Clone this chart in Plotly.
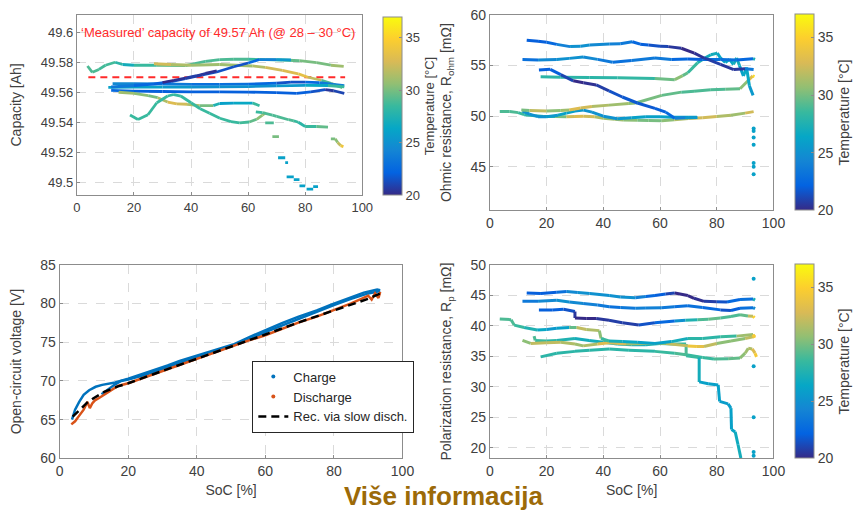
import plotly.graph_objects as go
from plotly.colors import sample_colorscale

# ---------------- DATA ----------------
SOC_TICKS = [0, 20, 40, 60, 80, 100]
TEMP_TICKS = [20, 25, 30, 35]
TEMP_MIN, TEMP_MAX = 20, 37
CAP_TICKS = [49.5, 49.52, 49.54, 49.56, 49.58, 49.6]
CAP_TICK_TEXT = ["49.5", "49.52", "49.54", "49.56", "49.58", "49.6"]
MEASURED_CAP = 49.57
MEASURED_SOC = [4, 94]

# Capacity panel curves: SoC [%], capacity [Ah], temperature [°C]
CAP_A_SOC = [3.7, 5.4, 7.7, 10, 13.4, 16, 20, 28, 38, 45, 50, 55, 60, 66, 72, 78, 84, 89, 93.5]
CAP_A_AH = [49.5775, 49.5733, 49.5752, 49.578, 49.580, 49.5785, 49.578, 49.578, 49.5778, 49.5805, 49.5818, 49.582, 49.582, 49.5818, 49.5815, 49.581, 49.5798, 49.578, 49.5772]
CAP_A_T = [29, 29, 29, 28.5, 29, 27, 27, 30, 29, 29, 29, 29, 29, 28, 29, 30, 30, 30, 32]

CAP_B_SOC = [27, 33, 40, 50, 61.6, 66, 72, 77.6, 81, 85.7, 89, 93]
CAP_B_AH = [49.579, 49.5785, 49.578, 49.5785, 49.5775, 49.5765, 49.5745, 49.5722, 49.570, 49.568, 49.5659, 49.5631]
CAP_B_T = [33, 32, 31, 31, 31, 32, 33, 33, 34, 30, 28, 32]

CAP_C_SOC = [30, 34, 38, 42, 45, 49]
CAP_C_AH = [49.5665, 49.568, 49.5695, 49.571, 49.5725, 49.5742]
CAP_C_T = [20, 20, 20.5, 21, 20, 20.5]

CAP_D_SOC = [12, 20, 27, 33, 38, 44, 49, 55, 60, 64, 70, 75]
CAP_D_AH = [49.5635, 49.5645, 49.5655, 49.567, 49.569, 49.5715, 49.5735, 49.577, 49.5795, 49.5818, 49.5818, 49.5815]
CAP_D_T = [24, 23, 22, 22, 21, 21, 22, 21, 22, 23, 25, 26]

CAP_E_SOC = [12.5, 20, 30, 40, 50, 60, 70, 75, 80, 85, 90, 93.7]
CAP_E_AH = [49.5658, 49.5658, 49.5655, 49.5652, 49.5652, 49.5654, 49.566, 49.5667, 49.5667, 49.5664, 49.5652, 49.5644]
CAP_E_T = [25, 24, 24, 23, 23, 23, 22, 21, 22, 23, 24, 24]

CAP_F_SOC = [11, 20, 30, 40, 50, 60, 70, 80, 88, 93.7]
CAP_F_AH = [49.5632, 49.5634, 49.5634, 49.5634, 49.5636, 49.5638, 49.5642, 49.5646, 49.5645, 49.5636]
CAP_F_T = [26, 26, 26, 25, 25, 25, 25, 26, 27, 30]

CAP_G_SOC = [12, 20, 30, 40, 50, 60, 70, 77, 82, 87, 90, 93.7]
CAP_G_AH = [49.5612, 49.5608, 49.5605, 49.5603, 49.5603, 49.5601, 49.5598, 49.5593, 49.5603, 49.5618, 49.561, 49.5593]
CAP_G_T = [23, 22, 22, 22, 22, 22, 22, 22, 22, 21, 20, 22]

CAP_H_SOC = [14.6, 20, 25, 28.3, 31.8, 35, 38.6, 43, 47.8, 50, 55, 61.6, 64]
CAP_H_AH = [49.560, 49.5592, 49.5578, 49.5564, 49.5535, 49.5522, 49.552, 49.5511, 49.5511, 49.5525, 49.5528, 49.5528, 49.551]
CAP_H_T = [31, 31, 30, 30, 33, 33, 32, 31, 29, 26, 26, 27, 30]

CAP_I_SOC = [18.6, 21.4, 24.9, 28, 31.8, 34, 36.4, 40, 43.2, 46.5, 50.1, 54, 57, 60.4, 63, 65, 66.2]
CAP_I_AH = [49.5448, 49.5418, 49.545, 49.553, 49.5575, 49.5585, 49.5575, 49.553, 49.549, 49.546, 49.5427, 49.5405, 49.5396, 49.5402, 49.542, 49.5448, 49.5465]
CAP_I_T = [28.5, 28.5, 28.5, 28.5, 28.5, 28.5, 28.5, 28.5, 28.5, 28.5, 28.5, 28.5, 28.5, 29, 30, 31, 31]

CAP_J_SOC = [62.7, 65, 68.5, 70, 74.2, 76, 77.6, 80, 84, 88]
CAP_J_AH = [49.547, 49.5465, 49.5448, 49.544, 49.5417, 49.541, 49.540, 49.5372, 49.5372, 49.5368]
CAP_J_T = [28, 29, 29, 29, 29, 29, 28, 28, 29, 30]

CAP_K_SOC = [66, 69, None, 68.5, 70.8, None, 89, 90.5, 91.4, 92.4, 93.4]
CAP_K_AH = [49.5396, 49.5396, None, 49.5305, 49.5305, None, 49.529, 49.529, 49.5265, 49.5245, 49.5238]
CAP_K_T = [29, 29, None, 30, 30, None, 30, 30, 31, 33, 35]

CAP_L_SOC = [70.5, 73, None, 73, 74, None, 73.5, 76, None, 76, 78, None, 78, 80, None, 80.5, 82.8, None, 82.8, 84.5]
CAP_L_AH = [49.5164, 49.5164, None, 49.5132, 49.5132, None, 49.5037, 49.5037, None, 49.5018, 49.5018, None, 49.4976, 49.4976, None, 49.4955, 49.4955, None, 49.4972, 49.4972]
CAP_L_T = [26, 26, None, 26, 26, None, 26, 26, None, 26, 26, None, 26, 26, None, 26, 26, None, 26, 26]

# Ohmic resistance panel: SoC [%], R_ohm [mOhm], temperature
OHM_A_SOC = [13, 17, 20, 23.6, 28.3, 32, 35.2, 42.1, 46, 50.2, 53, 55.9, 60, 62.9, 67.5, 72.1, 75.5, 81.3, 86, 90, 93]
OHM_A_R = [57.5, 57.4, 57.3, 57.08, 56.86, 56.9, 57.02, 57.12, 57.15, 57.34, 57.1, 57.02, 56.9, 56.86, 56.7, 56.22, 55.74, 55.1, 54.6, 54.68, 54.6]
OHM_A_T = [22, 22, 22, 23, 25, 25, 25, 24, 24, 23, 22, 22, 21, 21, 20, 20, 20.5, 21, 20, 21, 26]

OHM_B_SOC = [11.5, 17, 23.6, 28, 32.9, 38, 43.3, 50, 58.2, 64, 69.8, 75, 81.3, 87, 92.8, 93.5]
OHM_B_R = [55.58, 55.55, 55.58, 55.7, 55.83, 55.6, 55.32, 55.5, 55.74, 55.6, 55.64, 55.6, 55.58, 55.55, 55.67, 55.6]
OHM_B_T = [22, 24, 25, 25, 25, 24, 23, 23, 24, 23, 22, 22, 24, 22, 23, 31]

OHM_C_SOC = [17.3, 21.3, 25, 29.4, 33, 37.5, 42, 46.7, 52, 58.2, 62, 65.2, 69, 73.2]
OHM_C_R = [54.55, 54.62, 54.1, 53.49, 53.3, 53.08, 52.5, 51.89, 51.3, 50.77, 50.4, 49.8, 49.85, 49.87]
OHM_C_T = [22, 22, 22, 20, 20, 20.5, 21, 22, 21.5, 22, 22, 23, 25, 26]

OHM_D_SOC = [17.9, 25, 35.2, 45, 58.2, 65.2, 68, 69.8, 73.2, 75, 77.9, 80.2, 81.3, 83, 84.5, 85.9, 87, 88, 89.4, 90.5, 91.5, 92.8]
OHM_D_R = [53.88, 53.83, 53.81, 53.78, 53.72, 53.6, 54.0, 54.29, 55.26, 55.6, 56.06, 56.22, 55.74, 55.3, 55.6, 55.1, 55.74, 55.0, 53.97, 54.8, 53.0, 52.05]
OHM_D_T = [28, 28, 28, 28, 28.5, 31, 30, 29, 28, 27, 27, 27, 26, 26, 27, 26, 28, 26, 26, 27, 26, 25]

OHM_E_SOC = [11.1, 14, 20, 25, 28, 32, 36, 42, 49, 51.4, 60.6, 67.5, 72, 77.9, 83, 88.2, 91, 92.7, 93.3]
OHM_E_R = [50.6, 50.55, 50.5, 50.55, 50.6, 50.8, 50.95, 51.09, 51.25, 51.3, 52.05, 52.37, 52.45, 52.6, 52.65, 52.7, 53.5, 53.97, 53.9]
OHM_E_T = [28, 32, 32, 29, 33, 33, 32, 31, 31, 30, 30, 29, 29, 29, 29, 30, 31, 35, 36]

OHM_F_SOC = [3.5, 7, 10, 12.1, 16, 19, 23, 27, 30, 33, 37, 40, 44, 47, 52, 56, 60.6, 65, 70, 75, 80, 85, 90, 93]
OHM_F_R = [50.45, 50.45, 50.35, 50.15, 50.05, 49.97, 49.97, 49.94, 49.97, 50.0, 49.95, 49.8, 49.7, 49.62, 49.6, 49.58, 49.55, 49.65, 49.78, 49.85, 49.97, 50.1, 50.3, 50.45]
OHM_F_T = [29, 29, 29, 28, 28, 28, 28, 32, 33, 33, 32, 31, 31, 31, 30, 30, 30, 31, 32, 33, 32, 31, 31, 34]

OHM_G_SOC = [11.5, 14, 17, 20, 24, 27, 30, 33, 36, 40, 45, 50, 55, 60, 65, 70, 73]
OHM_G_R = [50.5, 50.2, 49.95, 49.95, 50.1, 50.3, 50.5, 50.6, 50.4, 50.0, 49.75, 49.85, 49.95, 49.95, 49.9, 49.9, 49.9]
OHM_G_T = [25, 25, 25, 25, 26, 26, 26, 25, 25, 25, 25, 26, 26, 26, 26, 26, 26]

OHM_DOT_SOC = [93, 93, 93, 93, 93, 93, 93]
OHM_DOT_R = [48.78, 48.53, 47.89, 47.18, 45.38, 45.0, 44.26]
OHM_DOT_T = [26, 26, 26, 26, 26, 26, 26]

# Polarization resistance panel: SoC [%], R_p [mOhm], temperature
RP_A_SOC = [13, 18, 23.6, 27.1, 31, 35.2, 42.1, 46, 51.3, 55, 58.2, 62, 65.2, 69.8, 72, 75.5, 80, 83.6, 88.2, 92.8, 93.5]
RP_A_R = [45.38, 45.3, 45.48, 45.6, 45.45, 45.3, 44.95, 44.7, 44.6, 44.8, 44.95, 45.2, 45.38, 44.95, 44.5, 44.0, 43.95, 43.9, 44.3, 44.4, 44.2]
RP_A_T = [22, 22, 22, 24, 25, 25, 25, 25, 25, 23, 22, 22, 20, 20, 20, 20.5, 21, 22, 23, 23, 31]

RP_B_SOC = [11.5, 17, 23.6, 28, 32.9, 38, 42.1, 46, 51.3, 55, 60.6, 65, 69.8, 75, 81.3, 85, 88.2, 92.8, 93.5]
RP_B_R = [44.0, 44.0, 44.17, 43.9, 43.64, 43.4, 43.12, 43.0, 42.86, 42.9, 42.96, 43.1, 43.28, 43.0, 42.6, 42.5, 42.86, 42.96, 42.8]
RP_B_T = [23, 24, 25, 25, 24, 24, 23, 23, 24, 24, 24, 23, 23, 23, 22, 21, 23, 23, 26]

RP_C_SOC = [17.3, 22, 26, 30, 30, 34, 37.5, 42, 46.7, 52.5, 58.2, 65.2, 69, 73.2, 77, 81.3, 85, 88.2, 91, 92.8, 93.3]
RP_C_R = [42.6, 42.6, 42.7, 42.33, 41.28, 41.2, 41.18, 40.9, 40.5, 40.13, 40.5, 40.76, 40.9, 41.0, 41.05, 41.28, 41.5, 41.8, 41.6, 41.54, 41.3]
RP_C_T = [22, 22, 22, 21, 20, 20, 20, 21, 20.5, 21, 22, 23, 27, 28, 30, 29, 29, 29, 30, 34, 36]

RP_D_SOC = [3.5, 7.5, 8.6, 12.1, 16.7, 20, 23.6, 28, 30.6, 34, 38.6, 39.2, 42, 46.7, 52, 58.2, 64, 69.8, 75, 81.3, 87, 92.8, 93.3]
RP_D_R = [41.12, 41.0, 40.1, 39.7, 39.3, 39.4, 39.6, 39.7, 39.7, 39.4, 39.2, 37.9, 37.5, 37.4, 37.3, 37.1, 37.4, 37.9, 37.9, 38.2, 38.3, 38.55, 38.0]
RP_D_T = [29, 29, 29, 28, 27, 26, 25, 27, 32, 32, 31, 30, 27, 27, 26, 26, 26, 28, 28, 28, 29, 33, 36]

RP_E_SOC = [15.6, 16, 20, 23.6, 30, 35, 40, 45, 50, 55, 60, 65, 69.2, 69.2, 73.8, 73.8, 77, 80.5, 81, 84, 85, 85.2, 86.5, 87.5, 88.5]
RP_E_R = [38.3, 37.6, 37.5, 37.6, 37.9, 37.6, 37.3, 37.0, 36.9, 36.9, 37.1, 37.0, 37.0, 35.1, 34.8, 30.8, 30.5, 30.3, 27.6, 27.2, 26.5, 23.0, 22.6, 20.5, 18.3]
RP_E_T = [29, 29, 28, 28, 27, 27, 27, 27, 27, 27, 28, 28, 29, 29, 28, 26, 26, 26, 26, 25.5, 26, 26, 26.5, 27, 27]

RP_F_SOC = [17.9, 23.6, 30, 35.2, 42.1, 49, 58.2, 65.2, 69.8, 75, 79, 84, 88.2, 90, 91.1, 92.5, 93.5, 94]
RP_F_R = [34.9, 35.5, 35.8, 36.0, 36.2, 36.0, 35.8, 35.5, 35.2, 34.8, 34.55, 34.6, 34.7, 35.5, 36.3, 36.2, 35.5, 34.9]
RP_F_T = [28, 28, 28, 28, 28, 28, 28, 29, 29, 28, 29, 29, 30, 31, 31, 32, 34, 35]

RP_G_SOC = [11.5, 14.4, 20, 25, 30, 32.9, 38, 42, 48, 55, 62, 69.8, 73, 75.5, 80, 85, 90, 92.8, 93.5]
RP_G_R = [37.6, 37.1, 37.2, 37.3, 37.0, 36.7, 37.0, 37.2, 37.0, 37.1, 37.1, 36.7, 36.6, 36.6, 37.1, 37.5, 37.9, 38.2, 38.5]
RP_G_T = [29, 32, 32, 32, 31, 31, 32, 34, 31, 31, 30, 34, 34, 33, 31, 30, 31, 33, 36]

RP_DOT_SOC = [93, 93, 93, 93, 93]
RP_DOT_R = [47.7, 33.35, 25.0, 19.3, 18.7]
RP_DOT_T = [26, 26, 26, 26, 26]

# Open-circuit voltage panel
OCV_CHG1_SOC = [3.6, 4.5, 5.7, 7, 8.6, 10.5, 12.4, 14.5, 16.2, 20, 25, 31.5, 35, 40, 45, 50.6, 55, 60.1, 65, 69.7, 75, 79.2, 85, 88.7, 92.6, 93.5]
OCV_CHG1_V = [65.0, 66.3, 67.3, 68.2, 68.8, 69.25, 69.5, 69.7, 69.8, 70.3, 71.0, 72.0, 72.6, 73.3, 73.9, 74.7, 75.6, 76.6, 77.5, 78.3, 79.1, 79.85, 80.8, 81.4, 81.8, 81.7]
OCV_CHG2_SOC = [12.2, 14, 16, 17.9, 20, 25, 30, 35, 40, 45, 50, 55, 60, 65, 70, 75, 80, 85, 90, 93.5]
OCV_CHG2_V = [68.3, 68.9, 69.5, 70.0, 70.2, 70.8, 71.6, 72.4, 73.1, 73.7, 74.5, 75.3, 76.3, 77.2, 78.1, 78.9, 79.8, 80.6, 81.3, 81.6]
OCV_DIS_SOC = [3.4, 4.5, 5.5, 7, 8.1, 8.8, 9.5, 10.3, 11.5, 13.2, 15, 17, 20, 25, 30, 35, 40, 45, 50, 55, 60, 65, 70, 75, 80, 85, 88, 90, 91, 92, 93, 93.5]
OCV_DIS_V = [64.4, 64.8, 65.4, 66.3, 67.3, 66.5, 67.1, 67.5, 67.8, 68.3, 68.8, 69.35, 69.7, 70.5, 71.3, 72.1, 72.9, 73.6, 74.4, 75.2, 75.9, 76.8, 77.6, 78.3, 79.1, 80.0, 80.6, 81.0, 80.5, 81.3, 80.7, 81.5]
OCV_REC_SOC = [3.8, 5, 6.5, 8, 10, 13, 17, 20, 30, 40, 50, 60, 70, 80, 90, 93.5]
OCV_REC_V = [65.4, 65.9, 66.6, 67.2, 67.8, 68.6, 69.3, 69.7, 71.3, 72.9, 74.5, 76.0, 77.6, 79.1, 80.6, 81.3]

# ---------------- STYLE ----------------
PARULA = [[0.0, "rgb(53,42,135)"], [0.125, "rgb(3,99,225)"], [0.25, "rgb(20,133,212)"],
          [0.375, "rgb(6,167,198)"], [0.5, "rgb(56,185,158)"], [0.625, "rgb(146,191,115)"],
          [0.75, "rgb(217,186,86)"], [0.875, "rgb(252,206,46)"], [1.0, "rgb(249,251,14)"]]
FONT = "Liberation Sans, Arial, sans-serif"
TXT = "#404040"
AXC = "#8c8c8c"


def tcolor(t):
    f = (t - TEMP_MIN) / (TEMP_MAX - TEMP_MIN)
    return sample_colorscale(PARULA, [min(max(f, 0), 1)])[0]


fig = go.Figure()


def add_curve(xs, ys, ts, xa, ya, width=3):
    for i in range(len(xs) - 1):
        if xs[i] is None or xs[i + 1] is None:
            continue
        t = (ts[i] + ts[i + 1]) / 2
        fig.add_trace(go.Scatter(x=[xs[i], xs[i + 1]], y=[ys[i], ys[i + 1]], mode="lines",
                                 line=dict(color=tcolor(t), width=width),
                                 xaxis=xa, yaxis=ya, showlegend=False, hoverinfo="skip"))


CAP_CURVES = [(CAP_A_SOC, CAP_A_AH, CAP_A_T), (CAP_B_SOC, CAP_B_AH, CAP_B_T), (CAP_E_SOC, CAP_E_AH, CAP_E_T),
              (CAP_F_SOC, CAP_F_AH, CAP_F_T), (CAP_G_SOC, CAP_G_AH, CAP_G_T), (CAP_D_SOC, CAP_D_AH, CAP_D_T),
              (CAP_C_SOC, CAP_C_AH, CAP_C_T), (CAP_H_SOC, CAP_H_AH, CAP_H_T), (CAP_I_SOC, CAP_I_AH, CAP_I_T),
              (CAP_J_SOC, CAP_J_AH, CAP_J_T), (CAP_K_SOC, CAP_K_AH, CAP_K_T), (CAP_L_SOC, CAP_L_AH, CAP_L_T)]
OHM_CURVES = [(OHM_F_SOC, OHM_F_R, OHM_F_T), (OHM_G_SOC, OHM_G_R, OHM_G_T), (OHM_E_SOC, OHM_E_R, OHM_E_T),
              (OHM_D_SOC, OHM_D_R, OHM_D_T), (OHM_C_SOC, OHM_C_R, OHM_C_T), (OHM_B_SOC, OHM_B_R, OHM_B_T),
              (OHM_A_SOC, OHM_A_R, OHM_A_T)]
RP_CURVES = [(RP_F_SOC, RP_F_R, RP_F_T), (RP_E_SOC, RP_E_R, RP_E_T), (RP_G_SOC, RP_G_R, RP_G_T),
             (RP_D_SOC, RP_D_R, RP_D_T), (RP_C_SOC, RP_C_R, RP_C_T), (RP_B_SOC, RP_B_R, RP_B_T),
             (RP_A_SOC, RP_A_R, RP_A_T)]

# measured capacity dashed line (top-left)
fig.add_trace(go.Scatter(x=MEASURED_SOC, y=[MEASURED_CAP, MEASURED_CAP], mode="lines",
                         line=dict(color="#ff2b2b", width=2, dash="7px,5px"),
                         xaxis="x", yaxis="y", showlegend=False, hoverinfo="skip"))
for c in CAP_CURVES:
    add_curve(*c, "x", "y", width=2.8)
for c in OHM_CURVES:
    add_curve(*c, "x2", "y2", width=3)
for c in RP_CURVES:
    add_curve(*c, "x4", "y4", width=3)

# dots + colorbar carriers
fig.add_trace(go.Scatter(x=OHM_DOT_SOC, y=OHM_DOT_R, mode="markers",
                         marker=dict(size=4, color=OHM_DOT_T, coloraxis="coloraxis2"),
                         xaxis="x2", yaxis="y2", showlegend=False, hoverinfo="skip"))
fig.add_trace(go.Scatter(x=RP_DOT_SOC, y=RP_DOT_R, mode="markers",
                         marker=dict(size=4, color=RP_DOT_T, coloraxis="coloraxis3"),
                         xaxis="x4", yaxis="y4", showlegend=False, hoverinfo="skip"))
fig.add_trace(go.Scatter(x=[CAP_A_SOC[0]], y=[CAP_A_AH[0]], mode="markers",
                         marker=dict(size=1, color=[CAP_A_T[0]], coloraxis="coloraxis", opacity=0),
                         xaxis="x", yaxis="y", showlegend=False, hoverinfo="skip"))

# OCV panel
BLUE, ORANGE = "#0072BD", "#D95319"
fig.add_trace(go.Scatter(x=OCV_CHG2_SOC, y=OCV_CHG2_V, mode="lines", line=dict(color=BLUE, width=2.5),
                         xaxis="x3", yaxis="y3", showlegend=False, hoverinfo="skip"))
fig.add_trace(go.Scatter(x=OCV_CHG1_SOC, y=OCV_CHG1_V, mode="lines", line=dict(color=BLUE, width=2.5),
                         xaxis="x3", yaxis="y3", showlegend=False, hoverinfo="skip"))
fig.add_trace(go.Scatter(x=OCV_DIS_SOC, y=OCV_DIS_V, mode="lines", line=dict(color=ORANGE, width=2.5),
                         xaxis="x3", yaxis="y3", showlegend=False, hoverinfo="skip"))
fig.add_trace(go.Scatter(x=[None], y=[None], mode="markers", marker=dict(color=BLUE, size=4),
                         name="Charge", xaxis="x3", yaxis="y3"))
fig.add_trace(go.Scatter(x=[None], y=[None], mode="markers", marker=dict(color=ORANGE, size=4),
                         name="Discharge", xaxis="x3", yaxis="y3"))
fig.add_trace(go.Scatter(x=OCV_REC_SOC, y=OCV_REC_V, mode="lines",
                         line=dict(color="black", width=2.5, dash="8px,5px"),
                         name="Rec. via slow disch.", xaxis="x3", yaxis="y3", hoverinfo="skip"))

W, H = 865, 512


def dom_x(a, b):
    return [a / W, b / W]


def dom_y(top, bottom):
    return [1 - bottom / H, 1 - top / H]


def axis(domain, anchor, rng, size, **kw):
    d = dict(domain=domain, anchor=anchor, range=rng, showline=True, mirror=True, linecolor=AXC,
             linewidth=1, showgrid=True, gridcolor="#dadada", griddash="dash", gridwidth=1,
             zeroline=False, ticks="inside", ticklen=3, tickcolor=AXC,
             tickfont=dict(family=FONT, size=size, color=TXT))
    d.update(kw)
    return d


def cbar(x, top, bottom, size):
    return dict(colorscale=PARULA, cmin=TEMP_MIN, cmax=TEMP_MAX,
                colorbar=dict(x=x / W, xanchor="left", y=1 - bottom / H, yanchor="bottom",
                              len=(bottom - top) / H, lenmode="fraction", thickness=19,
                              thicknessmode="pixels", xpad=0, ypad=0, outlinecolor=AXC, outlinewidth=1,
                              tickvals=TEMP_TICKS, ticks="inside", ticklen=3, tickcolor=AXC,
                              tickfont=dict(family=FONT, size=size, color=TXT),
                              title=dict(text="Temperature [°C]", side="right",
                                         font=dict(family=FONT, size=size, color=TXT))))


title_font = dict(family=FONT, size=14, color=TXT)

fig.update_layout(
    width=W, height=H, margin=dict(l=0, r=0, t=0, b=0),
    paper_bgcolor="white", plot_bgcolor="white",
    font=dict(family=FONT, color=TXT),
    xaxis=axis(dom_x(74.3, 365), "y", [0, 100], 13, tickvals=SOC_TICKS),
    yaxis=axis(dom_y(7, 193), "x", [49.4916, 49.6116], 13, tickvals=CAP_TICKS, ticktext=CAP_TICK_TEXT,
               title=dict(text="Capacity [Ah]", font=title_font)),
    xaxis2=axis(dom_x(495, 784), "y2", [0, 100], 14, tickvals=SOC_TICKS),
    yaxis2=axis(dom_y(7, 209), "x2", [40.7, 60], 14, tickvals=[45, 50, 55, 60],
                title=dict(text="Ohmic resistance, R<sub>ohm</sub> [mΩ]", font=title_font)),
    xaxis3=axis(dom_x(56.7, 406), "y3", [0, 100], 14, tickvals=SOC_TICKS,
                title=dict(text="SoC [%]", font=title_font, standoff=6)),
    yaxis3=axis(dom_y(265, 465), "x3", [60, 85], 14, tickvals=[60, 65, 70, 75, 80, 85],
                title=dict(text="Open-circuit voltage [V]", font=title_font)),
    xaxis4=axis(dom_x(495, 784), "y4", [0, 100], 14, tickvals=SOC_TICKS,
                title=dict(text="SoC [%]", font=title_font, standoff=6)),
    yaxis4=axis(dom_y(265, 465), "x4", [18.25, 50], 14, tickvals=[20, 25, 30, 35, 40, 45, 50],
                title=dict(text="Polarization resistance, R<sub>p</sub> [mΩ]", font=title_font)),
    coloraxis=cbar(386, 9, 193, 13),
    coloraxis2=cbar(806, 7, 209, 14),
    coloraxis3=cbar(806, 265, 465, 14),
    legend=dict(x=253 / W, y=1 - 364 / H, xanchor="left", yanchor="top", bgcolor="white",
                bordercolor="#262626", borderwidth=1, font=dict(family=FONT, size=13, color="#262626"),
                tracegroupgap=0, itemwidth=30),
    annotations=[
        dict(x=49.5, y=49.5995, xref="x", yref="y", text="‘Measured’ capacity of 49.57 Ah (@ 28 – 30 °C)",
             showarrow=False, font=dict(family=FONT, size=13, color="#ff2b2b"), xanchor="center"),
        dict(x=448 / W, y=1 - 504 / H, xref="paper", yref="paper", text="<b>Više informacija</b>",
             showarrow=False, font=dict(family=FONT, size=26, color="#9c6a08"),
             xanchor="center", yanchor="middle"),
    ],
)

fig.write_html("out.html")
